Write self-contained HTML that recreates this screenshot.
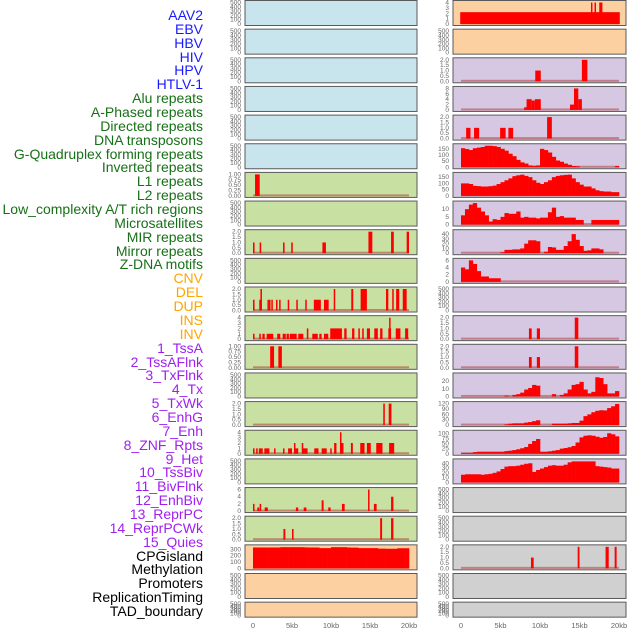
<!DOCTYPE html>
<html><head><meta charset="utf-8">
<style>
html,body{margin:0;padding:0;background:#fff;width:630px;height:630px;overflow:hidden;}
#labels{position:absolute;left:0;top:0;width:203px;height:630px;}
.lab{position:absolute;right:0;white-space:nowrap;font-family:"Liberation Sans",sans-serif;font-size:14px;line-height:14px;text-align:right;}
svg{position:absolute;left:0;top:0;}
</style></head>
<body>
<div id="labels"></div>
<svg id="chart" width="630" height="630"></svg>
<script>
const labelNames = ["AAV2","EBV","HBV","HIV","HPV","HTLV-1","Alu repeats","A-Phased repeats","Directed repeats","DNA transposons","G-Quadruplex forming repeats","Inverted repeats","L1 repeats","L2 repeats","Low_complexity A/T rich regions","Microsatellites","MIR repeats","Mirror repeats","Z-DNA motifs","CNV","DEL","DUP","INS","INV","1_TssA","2_TssAFlnk","3_TxFlnk","4_Tx","5_TxWk","6_EnhG","7_Enh","8_ZNF_Rpts","9_Het","10_TssBiv","11_BivFlnk","12_EnhBiv","13_ReprPC","14_ReprPCWk","15_Quies","CPGisland","Methylation","Promoters","ReplicationTiming","TAD_boundary"];
const labelGroups = [6,13,5,15,5];
const groupColors = ["#1a1aff","#177017","#ffa500","#a020f0","#000000"];

const xTickLabels = ["0","5kb","10kb","15kb","20kb"];
const xTickValues = [0,5,10,15,20];

const emptyTicks = ["0","100","200","300","400","500"];
const ticks01 = ["0.00","0.25","0.50","0.75","1.00"];
const ticks02 = ["0.0","0.5","1.0","1.5","2.0"];
const ticks04 = ["0","1","2","3","4"];
const ticks06 = ["0","2","4","6"];
const ticks08 = ["0","2","4","6","8"];
const ticks150 = ["0","50","100","150"];
const ticks10 = ["0","5","10"];
const ticks40 = ["0","10","20","30","40"];
const ticks20 = ["0","10","20"];
const ticks120 = ["0","30","60","90","120"];
const ticks100 = ["0","25","50","75","100"];
const ticks300 = ["0","100","200","300"];

// segment data: [startKb, endKb, value]
const L6 = [[0.26,0.86,1]];
const L8 = [[0,0.2,1],[0.85,1.05,1],[3.85,4.05,1],[4.9,5.1,1],[8.9,9.35,1],[14.8,15.3,2],[17.7,18.05,2],[19.7,20,2]];
const L10 = [[0,0.2,1],[0.8,0.95,1],[0.95,1.15,2],[1.85,2.0,1],[2.05,2.2,1],[2.35,2.5,1],[2.95,3.1,1],[3.35,3.5,1],[4.45,4.6,1],[5.55,5.7,1],[6.7,6.85,1],[7.8,8.7,1],[9.1,9.7,1],[10.35,10.5,2],[12.6,12.85,2],[13.8,14.6,2],[17.05,17.35,2],[17.85,18.0,2],[18.35,18.75,2],[19.2,19.7,2]];
const L11 = [[0,0.2,1],[0.8,1.0,1],[1.2,1.5,1],[1.75,2.6,1],[3.1,3.5,1],[3.8,4.2,1],[4.3,4.6,1],[4.7,5.6,1],[5.8,6.45,1],[6.9,7.1,2],[7.6,8.3,1],[8.5,8.8,1],[9.1,9.65,1],[9.9,11.4,2],[11.7,12.0,2],[12.7,13.0,2],[13.5,13.7,2],[14.0,14.2,2],[14.6,15.0,2],[15.55,16.0,2],[16.3,16.6,2],[17.35,17.7,2],[17.45,17.6,4],[18.3,18.9,2],[19.5,19.9,2]];
const L12 = [[2.2,2.7,1],[3.25,3.7,1]];
const L14 = [[16.7,16.9,2],[17.4,17.75,2]];
const L15 = [[0,0.2,1],[0.4,0.6,1],[0.75,1.25,1],[1.45,2.1,1],[2.7,2.85,1],[3.85,4.0,1],[4.5,5.0,1],[5.25,5.4,2],[5.4,5.8,1],[6.25,6.4,2],[6.4,7.0,1],[7.85,8.4,1],[8.8,9.45,1],[9.9,10.0,1],[10.4,10.7,2],[11.15,11.3,4],[11.3,11.6,2],[12.55,12.8,2],[13.75,14.3,2],[14.6,15.1,2],[15.8,16.6,2],[17.45,18.1,2]];
const L17 = [[0,0.12,2],[0.55,0.8,1],[0.85,1.05,2],[1.5,1.9,1],[5.5,5.8,1],[6.5,6.85,1],[8.8,9.05,3],[9.65,9.95,1],[11.4,11.75,2],[14.75,14.92,6],[15.5,15.85,2],[17.7,18.0,4]];
const L18 = [[3.9,4.15,1],[5.0,5.2,1],[16.3,16.55,2],[17.7,18.0,2]];
const R0 = [[-0.1,20.1,2.2],[16.45,16.6,4],[16.9,17.05,4],[17.5,17.9,4]];
const R2 = [[9.4,10.1,1],[15.3,16.0,2]];
const R3 = [[8.0,8.3,1],[8.3,8.95,4],[8.95,9.35,3.5],[9.35,10.1,4],[13.8,14.3,2],[14.3,14.85,8],[14.85,15.3,4]];
const R4 = [[0.65,1.2,1],[1.65,2.3,1],[4.95,5.65,1],[6.0,6.6,1],[10.9,11.5,2]];
const R11 = [[8.6,8.95,1],[9.6,10.0,1],[14.4,14.85,2]];
const R12 = [[8.6,8.95,1],[9.6,10.0,1],[14.4,14.85,2]];
const R19 = [[8.86,9.2,1],[14.77,15.0,2],[18.3,18.7,2],[19.45,19.7,2]];

// binned data: 40 bins of 0.5kb
const L19 = [330,330,330,330,330,330,330,335,335,335,335,335,335,332,330,330,330,320,320,320,335,335,335,335,330,328,328,320,320,320,320,320,312,312,310,310,310,318,318,318];
const R5 = [155,148,140,155,160,165,175,175,172,165,150,135,110,90,60,40,30,15,12,15,150,140,120,85,55,45,30,20,10,8,0,0,0,0,0,0,0,0,0,10];
const R6 = [100,100,95,80,78,75,75,78,82,95,110,125,140,158,165,170,160,150,125,105,95,110,125,150,160,165,168,170,140,110,90,75,75,60,45,38,35,35,30,30];
const R7 = [6,10,13,14,11,8.5,6,2,3.5,3,5,7.5,7,7,8.5,4.5,5,4.5,4.5,4,4.5,4.5,8,11,5,5.5,4.5,4.5,4.5,3,3,0,0,3,3,3,3,3,3,3];
const R8 = [0,0,0,0,0,0,0,0,0,0,2,7,7,8,8,10,20,27,27,25,0,3,13,12,7,7,15,25,40,28,15,5,6,10,10,8,0,0,0,0];
const R9 = [4,3.5,6,5,3,1.5,1.5,1,1,1,0,0,0,0,0,0,0,0,0,0,0,0,0,0,0,0,0,0,0,0,0,0,0,0,0,0,0,0,0,0];
const R13 = [0,0,0,0,0,0,0,0,0,0,0,1,0,2,3,5,9,11,15,14,0,0,0,3,0,2,4,9,15,16,19,9,4,6,25,24,16,4,4,7];
const R14 = [0,0,0,0,0,0,0,0,0,0,0,4,8,10,10,10,14,17,22,27,0,0,0,8,8,8,8,10,12,12,25,50,60,72,80,83,82,95,105,118];
const R15 = [4,4,4,8,10,10,10,10,10,10,10,13,15,18,22,27,33,48,62,72,10,10,12,15,18,25,28,32,38,55,80,88,90,88,83,78,82,100,95,85];
const R16 = [16,17,17,17,17,16,17,18,20,23,28,33,34,34,35,37,39,40,22,26,29,32,35,36,35,35,37,42,44,44,44,44,44,44,34,33,32,31,29,29];

const leftBg = ["b","b","b","b","b","b","g","g","g","g","g","g","g","g","g","g","g","g","g","o","o","o"];
const rightBg = ["o","o","p","p","p","p","p","p","p","p","p","p","p","p","p","p","p","k","k","k","k","k"];
const leftTicks = [emptyTicks,emptyTicks,emptyTicks,emptyTicks,emptyTicks,emptyTicks,ticks01,emptyTicks,ticks02,emptyTicks,ticks02,ticks04,ticks01,emptyTicks,ticks02,ticks04,emptyTicks,ticks06,ticks02,ticks300,emptyTicks,emptyTicks];
const rightTicks = [ticks04,emptyTicks,ticks02,ticks08,ticks02,ticks150,ticks150,ticks10,ticks40,ticks06,emptyTicks,ticks02,ticks02,ticks20,ticks120,ticks100,ticks40,emptyTicks,emptyTicks,ticks02,emptyTicks,emptyTicks];
const leftYMax = [500,500,500,500,500,500,1,500,2,500,2,4,1,500,2,4,500,6,2,340,500,500];
const rightYMax = [4,500,2,8,2,175,172,14,45,6,500,2,2,28,120,105,45,500,500,2,500,500];
const leftData = [null,null,null,null,null,null,L6,null,L8,null,L10,L11,L12,null,L14,L15,null,L17,L18,L19,null,null];
const rightData = [R0,null,R2,R3,R4,R5,R6,R7,R8,R9,null,R11,R12,R13,R14,R15,R16,null,null,R19,null,null];

const bgColors = {b:"#c8e4ec",g:"#c8e1a3",o:"#fdd0a2",p:"#d6c8e2",k:"#d0d0d0"};
const NS = "http://www.w3.org/2000/svg";
const svg = document.getElementById("chart");

// labels
const labDiv = document.getElementById("labels");
let li = 0;
labelGroups.forEach((n,g)=>{
  for(let k=0;k<n;k++){
    const d=document.createElement("div");
    d.className="lab";
    d.style.top=(8+li*13.86)+"px";
    d.style.color=groupColors[g];
    d.textContent=labelNames[li];
    
    
    labDiv.appendChild(d);
    li++;
  }
});

function mk(tag,attrs){const e=document.createElementNS(NS,tag);for(const k in attrs)e.setAttribute(k,attrs[k]);return e;}

const cols = [
  {x0:245,w:172,zero:253,pxkb:7.8,bg:leftBg,ticks:leftTicks,ymax:leftYMax,data:leftData,name:"left"},
  {x0:453,w:173,zero:461,pxkb:7.9,bg:rightBg,ticks:rightTicks,ymax:rightYMax,data:rightData,name:"right"}
];

cols.forEach(c=>{
  const xs = kb=>c.zero+kb*c.pxkb;
  for(let i=0;i<22;i++){
    const top = i*28.65+0.5;
    const h = i===21?15:25;
    const g = mk("g",{});
    
    
    const rect = mk("rect",{x:c.x0,y:top,width:c.w,height:h,fill:bgColors[c.bg[i]],stroke:"#5a5a5a","stroke-width":1});
    
    
    g.appendChild(rect);
    const bottom = top+h-1.5, ytop = top+2;
    const ymax = c.ymax[i];
    const ys = v=>bottom-(v/ymax)*(bottom-ytop);
    // ticks
    c.ticks[i].forEach(t=>{
      const v=parseFloat(t);
      const tx=mk("text",{x:c.x0-4,y:ys(v)+2,"text-anchor":"end","font-size":"6.5","font-family":"Liberation Sans, sans-serif",fill:"#666"});
      tx.textContent=t;
      
      
      g.appendChild(tx);
    });
    const d = c.data[i];
    if(d){
      const base = mk("rect",{x:xs(0),y:bottom-1.5,width:xs(20)-xs(0),height:2,fill:"#b03030","fill-opacity":0.5});
      
      
      g.appendChild(base);
      if(typeof d[0]==="number"){
        d.forEach((v,b)=>{
          if(v<=0)return;
          const r=mk("rect",{x:xs(b*0.5),y:ys(v),width:xs((b+1)*0.5)-xs(b*0.5)+0.3,height:bottom-ys(v),fill:"#ff0000"});
          
          
          g.appendChild(r);
        });
      } else {
        d.forEach(s=>{
          const r=mk("rect",{x:xs(s[0]),y:ys(s[2]),width:Math.max(1.5,xs(s[1])-xs(s[0])),height:bottom-ys(s[2]),fill:"#ff0000"});
          
          
          g.appendChild(r);
        });
      }
    }
    svg.appendChild(g);
  }
  xTickValues.forEach((v,k)=>{
    const tx=mk("text",{x:xs(v),y:628,"text-anchor":"middle","font-size":"7.5","font-family":"Liberation Sans, sans-serif",fill:"#666"});
    tx.textContent=xTickLabels[k];
    
    
    svg.appendChild(tx);
  });
});
</script>
</body></html>
